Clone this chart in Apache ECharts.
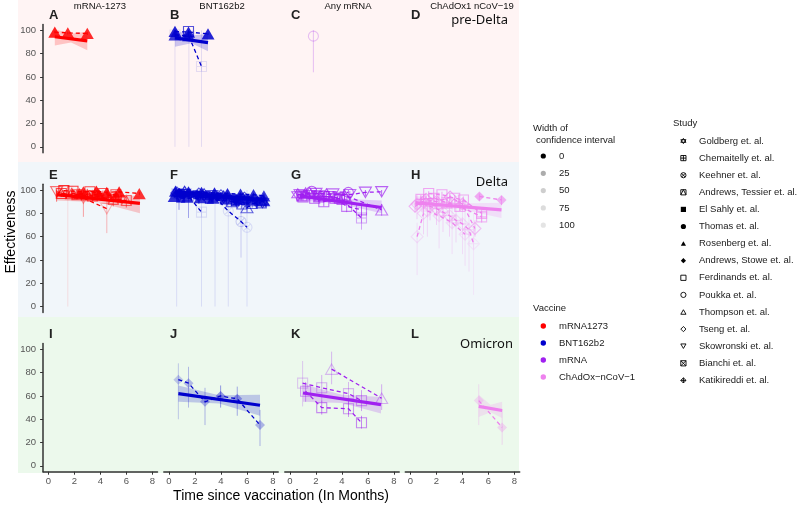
<!DOCTYPE html>
<html><head><meta charset="utf-8">
<script src="https://cdn.jsdelivr.net/npm/echarts@6/dist/echarts.min.js"></script>
<style>html,body{margin:0;padding:0;background:#fff}#c{width:797px;height:506px}</style>
</head><body><div id="c"></div>
<script>
// ================= DATA =================
const columnTitles = ['mRNA-1273', 'BNT162b2', 'Any mRNA', 'ChAdOx1 nCoV\u221219'];
const variantLabels = ['pre-Delta', 'Delta', 'Omicron'];
const panelLetters = ['A','B','C','D','E','F','G','H','I','J','K','L'];
const vaccineNames = ['mRNA1273', 'BNT162b2', 'mRNA', 'ChAdOx\u2212nCoV\u22121'];
const studyNames = ['Goldberg et. al.', 'Chemaitelly et. al.', 'Keehner et. al.', 'Andrews, Tessier et. al.',
  'El Sahly et. al.', 'Thomas et. al.', 'Rosenberg et. al.', 'Andrews, Stowe et. al.', 'Ferdinands et. al.',
  'Poukka et. al.', 'Thompson et. al.', 'Tseng et. al.', 'Skowronski et. al.', 'Bianchi et. al.', 'Katikireddi et. al.'];
const ciLegendValues = [0, 25, 50, 75, 100];
const xTicks = [0, 2, 4, 6, 8];
const yTicks = [0, 20, 40, 60, 80, 100];
const xTitle = 'Time since vaccination (In Months)';
const yTitle = 'Effectiveness';

// points: [months, effectiveness, ciLow, ciHigh, studyIndex, lineGroup]
const ptsA = [
  [0.5, 98.5, 97.5, 99.5, 6, 'a1'], [1.5, 97.8, 96.5, 99, 6, 'a1'], [3.0, 97.3, 96, 98.5, 6, 'a1']
];
const ptsB = [
  [0.46, 99, 98, 100, 6, 'b1'], [1.5, 98.5, 97.5, 99.5, 6, 'b1'], [3.0, 97, 96, 98, 6, 'b1'],
  [0.46, 96, 94, 98, 6, 'b2'], [1.5, 95.5, 94, 97, 6, 'b2'],
  [1.5, 99, 94, 100, 8, 'b4'],
  [0.46, 96, 0, 100, 1, 'b3'], [1.53, 95, 0, 100, 1, 'b3'], [2.5, 69, 0, 100, 1, 'b3']
];
const ptsC = [
  [1.8, 95, 64, 100, 9, 'c1']
];
const ptsE = [
  [0.64, 98.5, 90, 100, 12, 'e1'], [2.7, 93, 77, 99, 12, 'e1'], [4.5, 84, 63, 97, 12, 'e1'],
  [1.2, 99.5, 97, 100, 8, 'e2'], [1.9, 99, 96, 100, 8, 'e2'], [3.2, 98.5, 95, 100, 8, 'e2'], [4.2, 97, 93, 99.5, 8, 'e2'], [5.2, 96, 92, 99, 8, 'e2'],
  [1.5, 99, 0, 100, 1, 'e3'],
  [2.7, 98.5, 97, 100, 6, 'e4'], [3.7, 99, 98, 100, 6, 'e4'], [4.5, 98, 97, 99, 6, 'e4'], [5.45, 98.5, 97.5, 99.5, 6, 'e4'], [7.0, 97, 95.5, 98.5, 6, 'e4'],
  [1.0, 97, 94, 99, 3, 'e5'], [2.2, 96, 92, 99, 3, 'e5'], [3.4, 95, 90, 98, 3, 'e5'], [5.0, 92, 86, 96, 3, 'e5'], [6.0, 91, 85, 95, 3, 'e5'],
  [1.8, 97, 94, 99.5, 10, 'e6'], [3.0, 96, 92, 99, 10, 'e6'],
  [2.4, 97, 95, 99, 6, 'e7'], [3.9, 96, 94.5, 97.5, 6, 'e7'], [5.2, 95, 93, 97, 6, 'e7']
];
const ptsF = [
  [0.5, 99, 98, 100, 6, 'f1'], [1.5, 98.5, 97.5, 99.5, 6, 'f1'], [2.5, 98, 97, 99, 6, 'f1'], [3.5, 97.5, 96.5, 98.5, 6, 'f1'],
  [4.5, 97, 96, 98, 6, 'f1'], [5.5, 96.5, 95, 98, 6, 'f1'], [6.5, 96, 94.5, 97.5, 6, 'f1'], [7.3, 95, 93, 97, 6, 'f1'],
  [0.4, 94.5, 93, 96, 6, 'f11'], [1.4, 94, 92.5, 95.5, 6, 'f11'], [2.4, 93.5, 92, 95, 6, 'f11'], [3.4, 93, 91.5, 94.5, 6, 'f11'],
  [4.4, 92.5, 91, 94, 6, 'f11'], [5.4, 92, 90, 94, 6, 'f11'], [6.4, 91.5, 89.5, 93.5, 6, 'f11'], [7.3, 91, 89, 93, 6, 'f11'],
  [1.0, 96.5, 95, 98, 5, 'f2'], [2.0, 96, 94, 98, 5, 'f2'], [3.0, 95, 93, 97, 5, 'f2'], [4.0, 94, 92, 96, 5, 'f2'], [5.0, 93, 90, 95, 5, 'f2'], [6.0, 92, 89, 95, 5, 'f2'],
  [0.8, 97.5, 96.5, 98.5, 7, 'f3'], [2.2, 96, 95, 97, 7, 'f3'], [3.7, 94, 93, 95, 7, 'f3'], [5.2, 92, 91, 93, 7, 'f3'], [6.8, 90.5, 89, 92, 7, 'f3'],
  [1.2, 98, 96, 99, 0, 'f4'], [2.7, 96, 94, 98, 0, 'f4'], [4.2, 94, 92, 96, 0, 'f4'], [5.7, 92, 89, 94, 0, 'f4'], [7.2, 90, 87, 93, 0, 'f4'],
  [0.6, 97.5, 93, 99.5, 11, 'f5'], [2.3, 96.5, 93, 99, 11, 'f5'], [4.0, 95, 91, 98, 11, 'f5'], [5.8, 93, 89, 96, 11, 'f5'],
  [4.8, 90, 86, 93, 3, 'f6'], [5.6, 88, 84, 91, 3, 'f6'], [6.4, 88.5, 85, 92, 3, 'f6'], [7.1, 89, 85, 92, 3, 'f6'],
  [6.0, 85, 81, 89, 10, 'f7'], [7.0, 91, 87, 94, 10, 'f7'],
  [0.77, 96, 83, 100, 12, 'f8'], [2.3, 94, 88, 98, 12, 'f8'], [3.3, 95, 90, 98, 12, 'f8'],
  [0.9, 93, 91, 95, 4, 'f12'], [3.1, 92, 90, 94, 4, 'f12'], [5.1, 90, 88, 92, 4, 'f12'],
  [0.59, 97, 0, 100, 1, 'f9'], [1.5, 95, 76, 100, 1, 'f9'], [2.5, 81, 0, 100, 1, 'f9'],
  [3.54, 94, 0, 100, 2, 'f10'], [4.56, 82, 0, 100, 2, 'f10'], [5.54, 73, 42, 100, 2, 'f10'], [6.0, 68, 0, 100, 2, 'f10']
];
const ptsG = [
  [0.77, 96, 92, 99, 12, 'g1'], [2.0, 97, 94, 99.5, 12, 'g1'], [3.3, 96.5, 93, 99, 12, 'g1'], [4.6, 96, 92, 99, 12, 'g1'], [5.8, 98, 95, 100, 12, 'g1'], [7.05, 98.5, 95, 100, 12, 'g1'],
  [1.67, 99, 96, 100, 9, 'g2'], [4.49, 98, 94, 100, 9, 'g2'],
  [1.0, 94, 91, 97, 8, 'g3'], [1.9, 93, 90, 96, 8, 'g3'], [2.6, 90, 86, 93, 8, 'g3'], [3.46, 93, 90, 96, 8, 'g3'], [4.36, 86, 81, 90, 8, 'g3'], [5.5, 83, 78, 88, 8, 'g3'],
  [0.9, 95, 92, 98, 1, 'g4'], [2.2, 94, 90, 97, 1, 'g4'], [3.0, 94.5, 91, 97, 1, 'g4'], [4.0, 92, 88, 95, 1, 'g4'], [5.5, 76, 66, 86, 1, 'g4'],
  [1.2, 97.5, 95, 99.5, 10, 'g5'], [2.8, 96.5, 93, 99, 10, 'g5'], [4.2, 95.5, 91, 99, 10, 'g5'], [7.05, 83, 78, 88, 10, 'g5'],
  [0.6, 96, 93, 98.5, 0, 'g6'], [1.5, 97, 94, 99, 0, 'g6'],
  [2.3, 95, 92, 97, 3, 'g7'], [3.8, 93, 90, 96, 3, 'g7']
];
const ptsH = [
  [5.3, 94.5, 91, 97, 7, 'h1'], [7.0, 91.5, 87, 95, 7, 'h1'],
  [0.5, 88, 75, 96, 14, 'h2'], [1.0, 90, 80, 96, 14, 'h2'], [1.5, 86, 74, 94, 14, 'h2'], [2.0, 84, 70, 93, 14, 'h2'], [2.5, 81, 64, 92, 14, 'h2'],
  [3.0, 78, 60, 90, 14, 'h2'], [3.5, 74, 55, 88, 14, 'h2'], [4.0, 71, 45, 86, 14, 'h2'], [4.5, 66, 30, 84, 14, 'h2'], [4.85, 54, 10, 80, 14, 'h2'],
  [0.35, 86, 81, 90, 11, 'h3'], [1.2, 92, 88, 95, 11, 'h3'], [2.0, 90, 86, 94, 11, 'h3'], [3.05, 94, 91, 96, 11, 'h3'], [4.0, 88, 84, 92, 11, 'h3'], [4.96, 67, 60, 74, 11, 'h3'],
  [1.4, 97, 94, 99, 8, 'h4'], [2.42, 96, 93, 98.5, 8, 'h4'], [3.4, 93, 90, 96, 8, 'h4'], [4.07, 91.5, 88, 94.5, 8, 'h4'], [5.47, 80, 76, 84, 8, 'h4'],
  [0.8, 92, 88, 95, 1, 'h5'], [1.8, 93, 90, 96, 1, 'h5'], [2.8, 89, 85, 92, 1, 'h5'], [3.8, 86, 82, 90, 1, 'h5'], [5.47, 77, 72, 82, 1, 'h5'],
  [0.51, 60, 27, 72, 11, 'h6'], [1.0, 80, 62, 90, 11, 'h6'],
  [1.3, 82, 60, 93, 14, 'h7'], [2.2, 78, 50, 91, 14, 'h7'], [3.2, 72, 45, 88, 14, 'h7'], [4.2, 62, 35, 82, 14, 'h7']
];
const ptsJ = [
  [0.72, 74, 40, 88, 7, 'j1'], [1.5, 71, 50, 85, 7, 'j1'], [2.77, 55, 35, 67, 7, 'j1'],
  [3.97, 60, 50, 69, 7, 'j1'], [5.25, 57.5, 43, 68, 7, 'j1'], [7.0, 35, 17, 48, 7, 'j1']
];
const ptsK = [
  [3.2, 83, 70, 98, 10, 'k1'], [7.05, 58, 48, 70, 10, 'k1'],
  [0.97, 71, 51, 90, 8, 'k2'], [2.44, 67, 55, 78, 8, 'k2'], [4.5, 62, 44, 72, 8, 'k2'], [5.5, 56, 47, 65, 8, 'k2'],
  [1.2, 64, 55, 72, 8, 'k3'], [2.44, 50, 44, 56, 8, 'k3'], [4.5, 49, 42, 57, 8, 'k3'], [5.5, 37, 32, 43, 8, 'k3']
];
const ptsL = [
  [5.25, 56, 35, 70, 7, 'l1'], [7.05, 33, 18, 48, 7, 'l1']
];

// regression fits: [[xStart, yStart], [xEnd, yEnd]]; bands: [x, lower, upper]
const fitA = [[0.5, 94.5], [3.0, 91]];
const bandA = [[0.5, 87, 101], [1.75, 89.5, 97], [3.0, 83, 99]];
const fitB = [[0.46, 93.5], [3.0, 89.5]];
const bandB = [[0.46, 86, 100], [1.73, 89, 95.5], [3.0, 82, 97]];
const fitE = [[0.64, 96], [7.05, 88.5]];
const bandE = [[0.64, 91, 101], [3.85, 89.5, 95], [7.05, 80, 95]];
const fitF = [[0.46, 98.5], [7.4, 91.5]];
const bandF = [[0.46, 95, 102], [3.9, 93, 97], [7.4, 87, 96]];
const fitG = [[0.77, 95], [7.05, 85]];
const bandG = [[0.77, 91, 100], [3.9, 88, 92.5], [7.05, 80, 91]];
const fitH = [[0.38, 89], [7.0, 83]];
const bandH = [[0.38, 83, 95], [3.7, 84, 88.5], [7.0, 76, 89]];
const fitJ = [[0.72, 62], [7.0, 52]];
const bandJ = [[0.72, 55, 69], [3.86, 53.5, 60.5], [7.0, 43, 61]];
const fitK = [[1.0, 62.5], [7.0, 52.5]];
const bandK = [[1.0, 55, 70], [4.0, 54, 61], [7.0, 45, 59]];
const fitL = [[5.25, 51], [7.05, 47.5]];
const bandL = [[5.25, 42, 61], [6.15, 46, 52.5], [7.05, 41, 55]];

const panelPoints = [ptsA, ptsB, ptsC, [], ptsE, ptsF, ptsG, ptsH, [], ptsJ, ptsK, ptsL];
const panelFits = [fitA, fitB, null, null, fitE, fitF, fitG, fitH, null, fitJ, fitK, fitL];
const panelBands = [bandA, bandB, null, null, bandE, bandF, bandG, bandH, null, bandJ, bandK, bandL];

// ================= STYLE =================
const FONT = '"Liberation Sans", Arial, Helvetica, sans-serif';
const vaccineColors = ['#FF0000', '#0000CD', '#A020F0', '#EE82EE'];
const rowBg = ['#FFF4F4', '#F1F6FA', '#ECF9EC'];
const SHAPES = {
  star: 'M5,0L10,7.5L0,7.5Z M5,10L0,2.5L10,2.5Z',
  sqPlus: 'M0,0L10,0L10,10L0,10Z M5,0L5,10 M0,5L10,5',
  circX: 'M0,5A5,5,0,1,1,10,5A5,5,0,1,1,0,5Z M1.46,1.46L8.54,8.54 M8.54,1.46L1.46,8.54',
  sqTri: 'M0,0L10,0L10,10L0,10Z M0,10L5,0L10,10',
  square: 'M0,0L10,0L10,10L0,10Z',
  circle: 'M0,5A5,5,0,1,1,10,5A5,5,0,1,1,0,5Z',
  triangle: 'M5,0L10,8.66L0,8.66Z',
  diamond: 'M5,0L10,5L5,10L0,5Z',
  triDown: 'M0,0L10,0L5,8.66Z',
  sqX: 'M0,0L10,0L10,10L0,10Z M0,0L10,10 M10,0L0,10',
  diamondPlus: 'M5,0L10,5L5,10L0,5Z M5,0L5,10 M0,5L10,5'
};
const studyShape = ['star','sqPlus','circX','sqTri','square','circle','triangle','diamond','square','circle','triangle','diamond','triDown','sqX','diamondPlus'];
const studyFilled = [0,0,0,0,1,1,1,1,0,0,0,0,0,0,0];
const studySize = [12,10,10,10,9,9,13,10,10,10,12,12,12,10,12];
const alphaOf = w => 1 / (1 + Math.max(0, w) / 12);

const colLeft = [43.1, 163.8, 284.8, 405.3];
const rowTop = [24.5, 184.2, 343.5];
const gridW = 114.4, gridH = 128.2;

// ================= BUILD =================
const grids = [], xAxes = [], yAxes = [], series = [];
for (let p = 0; p < 12; p++) {
  const col = p % 4, row = Math.floor(p / 4);
  grids.push({ left: colLeft[col], top: rowTop[row], width: gridW, height: gridH, containLabel: false });
  xAxes.push({
    type: 'value', gridIndex: p, min: -0.4, max: 8.4, show: row === 2,
    axisLine: { show: true, onZero: false, lineStyle: { color: '#333', width: 1.5 } },
    axisTick: { show: true, length: 3, customValues: xTicks, lineStyle: { color: '#333', width: 1 } },
    axisLabel: { customValues: xTicks, color: '#555', fontSize: 9.5, margin: 5, fontFamily: FONT },
    splitLine: { show: false }
  });
  yAxes.push({
    type: 'value', gridIndex: p, min: -5, max: 105, show: col === 0,
    axisLine: { show: true, onZero: false, lineStyle: { color: '#333', width: 1.5 } },
    axisTick: { show: true, length: 3, customValues: yTicks, lineStyle: { color: '#333', width: 1 } },
    axisLabel: { customValues: yTicks, color: '#555', fontSize: 9.5, margin: 7, fontFamily: FONT },
    splitLine: { show: false }
  });
  const color = vaccineColors[col];
  const band = panelBands[p];
  if (band) {
    series.push({
      type: 'custom', xAxisIndex: p, yAxisIndex: p, z: 1, silent: true,
      data: band, encode: { x: 0, y: [1, 2] },
      renderItem: (params, api) => {
        if (params.dataIndex !== 0) return null;
        const up = band.map(r => api.coord([r[0], r[2]]));
        const lo = band.slice().reverse().map(r => api.coord([r[0], r[1]]));
        return { type: 'polygon', shape: { points: up.concat(lo) }, style: { fill: color, opacity: 0.2 } };
      }
    });
  }
  const pts = panelPoints[p];
  if (pts.length) {
    series.push({
      type: 'custom', xAxisIndex: p, yAxisIndex: p, z: 2, silent: true,
      data: pts.map(r => [r[0], r[1], r[2], r[3]]), encode: { x: 0, y: [2, 3] },
      renderItem: (params, api) => {
        const x = api.value(0), lo = api.value(2), hi = api.value(3);
        const a = api.coord([x, lo]), b = api.coord([x, hi]);
        return { type: 'line', shape: { x1: a[0], y1: a[1], x2: b[0], y2: b[1] },
          style: { stroke: color, lineWidth: 1, opacity: alphaOf(hi - lo) } };
      }
    });
    const groups = {};
    pts.forEach(r => { (groups[r[5]] = groups[r[5]] || []).push(r); });
    Object.values(groups).forEach(g => {
      if (g.length < 2) return;
      const d = g.slice().sort((a, b) => a[0] - b[0]).map(r => [r[0], r[1]]);
      series.push({ type: 'line', xAxisIndex: p, yAxisIndex: p, z: 3, silent: true, data: d,
        symbol: 'none', lineStyle: { color, width: 1.3, type: [4, 3] } });
    });
    const byStudy = {};
    pts.forEach(r => { (byStudy[r[4]] = byStudy[r[4]] || []).push(r); });
    Object.keys(byStudy).forEach(k => {
      const s = +k;
      const filled = studyFilled[s];
      series.push({
        type: 'scatter', xAxisIndex: p, yAxisIndex: p, z: 4, silent: true,
        symbol: 'path://' + SHAPES[studyShape[s]], symbolSize: studySize[s], symbolKeepAspect: true,
        itemStyle: filled ? { color, borderWidth: 0 } : { color: 'rgba(0,0,0,0)', borderColor: color, borderWidth: 1.1 },
        data: byStudy[k].map(r => ({ value: [r[0], r[1]], itemStyle: { opacity: alphaOf(r[3] - r[2]) } }))
      });
    });
  }
  const fit = panelFits[p];
  if (fit) {
    series.push({ type: 'line', xAxisIndex: p, yAxisIndex: p, z: 5, silent: true, data: fit,
      symbol: 'none', lineStyle: { color, width: 3.2 } });
  }
}

// study legend icons (custom series without coordinate system)
series.push({
  type: 'custom', coordinateSystem: 'none', silent: true, z: 6,
  data: studyNames.map((n, i) => [i]),
  renderItem: (params, api) => {
    const i = params.dataIndex;
    const y = 141 + i * 17.1;
    const f = studyFilled[i];
    return { type: 'path', shape: { pathData: SHAPES[studyShape[i]], x: 680.8, y: y - 2.6, width: 5.2, height: 5.2 },
      style: { fill: f ? '#000' : 'none', stroke: f ? null : '#000', lineWidth: 0.9 } };
  }
});

// ================= GRAPHIC (backgrounds, titles, legends) =================
const G = [];
const bgRows = [[0, 162], [162, 155], [317, 156]];
bgRows.forEach((b, i) => G.push({ type: 'rect', z: -10, silent: true, shape: { x: 18, y: b[0], width: 501, height: b[1] }, style: { fill: rowBg[i] } }));
function T(x, y, text, st) {
  return { type: 'text', x, y, silent: true, z: 10,
    style: Object.assign({ text, fill: '#1a1a1a', fontSize: 9.5, fontFamily: FONT, align: 'left', verticalAlign: 'middle' }, st || {}) };
}
const titleCx = [100, 222, 348, 472];
columnTitles.forEach((t, i) => G.push(T(titleCx[i], 6, t, { align: 'center', fill: '#111' })));
const letterX = [49, 170, 291, 411], letterY = [15, 175, 334];
panelLetters.forEach((l, i) => G.push(T(letterX[i % 4], letterY[Math.floor(i / 4)], l, { fontSize: 13, fontWeight: 'bold', fill: '#222' })));
const varRight = [508, 508, 513], varY = [20, 182, 344];
variantLabels.forEach((v, i) => G.push(T(varRight[i], varY[i], v, { align: 'right', fontSize: 13, fontFamily: '"Noto Sans", "Open Sans", sans-serif', fill: '#111' })));
G.push(T(281, 496, xTitle, { align: 'center', fontSize: 14, fill: '#000' }));
G.push(Object.assign(T(11, 232, yTitle, { align: 'center', fontSize: 14, fill: '#000' }), { rotation: Math.PI / 2 }));

G.push(T(533, 128, 'Width of', {}));
G.push(T(536, 140, 'confidence interval', {}));
ciLegendValues.forEach((v, i) => {
  const y = 156 + i * 17.3;
  G.push({ type: 'circle', silent: true, shape: { cx: 543.3, cy: y, r: 2.6 }, style: { fill: '#000', opacity: alphaOf(v) } });
  G.push(T(559, y, String(v)));
});
G.push(T(533, 308, 'Vaccine'));
vaccineNames.forEach((v, i) => {
  const y = 326 + i * 17;
  G.push({ type: 'circle', silent: true, shape: { cx: 543.3, cy: y, r: 2.7 }, style: { fill: vaccineColors[i] } });
  G.push(T(559, y, v));
});
G.push(T(673, 123, 'Study'));
studyNames.forEach((s, i) => G.push(T(699, 141 + i * 17.1, s)));

const chart = echarts.init(document.getElementById('c'), null, { renderer: 'canvas', width: 797, height: 506 });
chart.setOption({
  animation: false,
  backgroundColor: '#fff',
  grid: grids, xAxis: xAxes, yAxis: yAxes, series,
  graphic: { elements: G }
});
</script></body></html>
